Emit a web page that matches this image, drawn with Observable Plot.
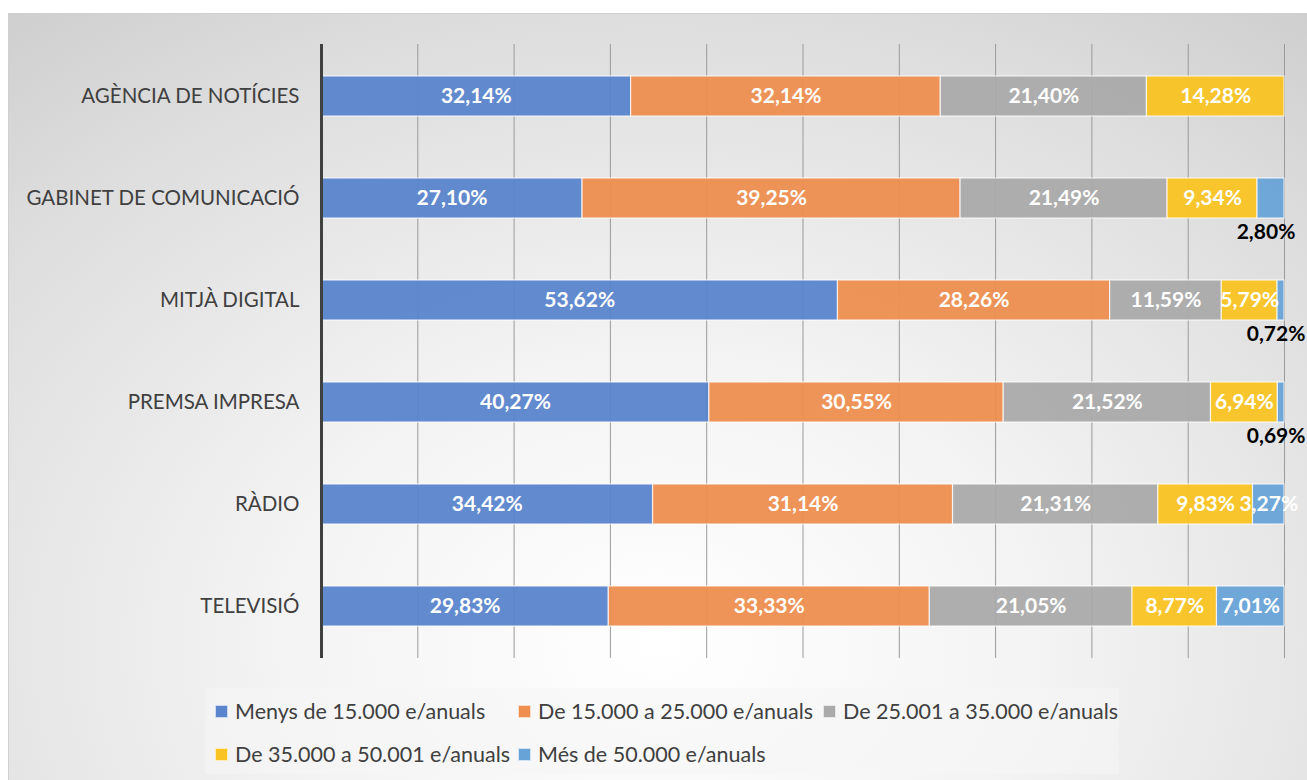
<!DOCTYPE html>
<html>
<head>
<meta charset="utf-8">
<script src="https://cdn.jsdelivr.net/npm/d3@7"></script>
<script src="https://cdn.jsdelivr.net/npm/@observablehq/plot@0.6"></script>
<style>
  html, body { margin: 0; padding: 0; background: #fff; }
  #frame {
    position: absolute; left: 8px; top: 13px; width: 1299px; height: 767px;
    background: radial-gradient(ellipse 85% 110% at 50% 82%, #ffffff 0%, #f3f3f3 35%, #dddddd 75%, #cbcbcb 100%);
    border-top: 1px solid #d0d0d0; border-left: 1px solid #d0d0d0;
    font-family: Lato, "Open Sans", sans-serif;
  }
  #chart svg { display: block; background: transparent; }
  #legend {
    margin-left: 196px; width: 914px; height: 86px; margin-top: 9px;
    background: rgba(245,245,245,0.55);
    position: relative; color: #404040; font-size: 21.5px;
  }
  .item { position: absolute; display: flex; align-items: center; white-space: nowrap; }
  .sw { width: 11px; height: 11px; margin-right: 7px; border: 1px solid rgba(255,255,255,0.7); }
</style>
</head>
<body>
<div id="frame">
  <div id="chart"></div>
  <div id="legend"></div>
</div>
<script>
const categories = ["AGÈNCIA DE NOTÍCIES", "GABINET DE COMUNICACIÓ", "MITJÀ DIGITAL", "PREMSA IMPRESA", "RÀDIO", "TELEVISIÓ"];
const seriesNames = ["Menys de 15.000 e/anuals", "De 15.000 a 25.000 e/anuals", "De 25.001 a 35.000 e/anuals", "De 35.000 a 50.001 e/anuals", "Més de 50.000 e/anuals"];
const seriesColors = ["#5A84CC", "#EE8E4F", "#AAAAAA", "#F9C323", "#68A3D7"];
const menys15000 = [32.14, 27.10, 53.62, 40.27, 34.42, 29.83];
const de15000a25000 = [32.14, 39.25, 28.26, 30.55, 31.14, 33.33];
const de25001a35000 = [21.40, 21.49, 11.59, 21.52, 21.31, 21.05];
const de35000a50001 = [14.28, 9.34, 5.79, 6.94, 9.83, 8.77];
const mes50000 = [0, 2.80, 0.72, 0.69, 3.27, 7.01];
const outsideLabelCats = ["GABINET DE COMUNICACIÓ", "MITJÀ DIGITAL", "PREMSA IMPRESA"];

const seriesValues = [menys15000, de15000a25000, de25001a35000, de35000a50001, mes50000];
const data = [];
seriesNames.forEach((s, si) => {
  categories.forEach((c, ci) => {
    const v = seriesValues[si][ci];
    if (v > 0) data.push({cat: c, series: s, value: v, si});
  });
});
const fmt = v => v.toFixed(2).replace(".", ",") + "%";
const isOutside = d => d.si === 4 && outsideLabelCats.includes(d.cat);

const stackOpts = (extra) => Plot.stackX({x: "value", y: "cat", z: "series", order: seriesNames, offset: "normalize", ...extra});

const chart = Plot.plot({
  width: 1299,
  height: 665,
  marginTop: 30,
  marginBottom: 21,
  marginLeft: 312,
  marginRight: 24,
  style: {fontFamily: "Lato, 'Open Sans', sans-serif", background: "transparent"},
  x: {domain: [0, 1], axis: null},
  y: {domain: categories, paddingInner: 0.61, paddingOuter: 0.305, label: null},
  color: {domain: seriesNames, range: seriesColors},
  marks: [
    Plot.ruleX(d3.range(0.1, 1.0001, 0.1), {stroke: "#9a9a9a", strokeWidth: 1}),
    Plot.barX(data, stackOpts({fill: "series", stroke: "#ffffff", strokeWidth: 1.2, strokeOpacity: 0.75, fillOpacity: 0.95})),
    Plot.ruleX([0], {stroke: "#404040", strokeWidth: 3}),
    Plot.axisY({tickSize: 0, tickPadding: 22, fontSize: 20.5, fill: "#404040", label: null}),
    Plot.text(data, stackOpts({text: d => isOutside(d) ? "" : fmt(d.value), fill: "white", fontWeight: "bold", fontSize: 21})),
    Plot.text(data, stackOpts({text: d => isOutside(d) ? fmt(d.value) : "", fill: "black", fontWeight: "bold", fontSize: 21, dy: 34, dx: -5}))
  ]
});
document.getElementById("chart").appendChild(chart);

const legend = document.getElementById("legend");
const positions = [[10, 23], [313, 23], [618, 23], [10, 66], [313, 66]];
seriesNames.forEach((s, i) => {
  const it = document.createElement("div");
  it.className = "item";
  it.style.left = positions[i][0] + "px";
  it.style.top = (positions[i][1] - 12) + "px";
  it.style.height = "24px";
  const sw = document.createElement("span");
  sw.className = "sw";
  sw.style.background = seriesColors[i];
  const tx = document.createElement("span");
  tx.textContent = s;
  it.appendChild(sw); it.appendChild(tx);
  legend.appendChild(it);
});
</script>
</body>
</html>
